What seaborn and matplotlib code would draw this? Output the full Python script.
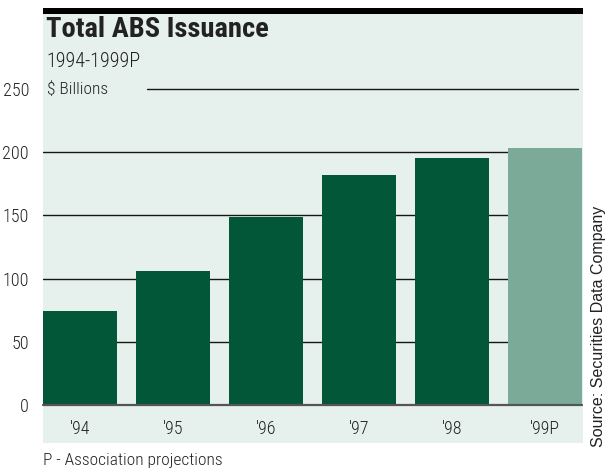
import matplotlib
matplotlib.use("Agg")
import matplotlib.pyplot as plt
from matplotlib import font_manager
from matplotlib.patches import Rectangle
import seaborn as sns
import pandas as pd

# Data ($ billions)
years = ["'94", "'95", "'96", "'97", "'98", "'99P"]
issuance = [74, 106, 149, 182, 195, 203]
bar_colors = ["#025738", "#025738", "#025738", "#025738", "#025738", "#7BAA99"]
y_ticks = [0, 50, 100, 150, 200, 250]

title = "Total ABS Issuance"
subtitle = "1994-1999P"
unit_label = "$ Billions"
source = "Source: Securities Data Company"
footnote = "P - Association projections"

PANEL = "#E6F0EC"
INK = "#222222"

sns.set_theme(style="white")

available = {f.name for f in font_manager.fontManager.ttflist}
family = next((f for f in ["Roboto Condensed", "Liberation Sans Narrow",
                           "Open Sans Condensed", "DejaVu Sans"] if f in available),
              "DejaVu Sans")
plt.rcParams["font.family"] = [family, "DejaVu Sans"]
LIGHT = "light"

W, H = 606, 468
fig = plt.figure(figsize=(W / 100, H / 100), dpi=100)


def fx(px):
    return px / W


def fy(py):
    return 1 - py / H


# background panel and black header rule
fig.patches.append(Rectangle((fx(43), fy(443)), fx(583) - fx(43), fy(8) - fy(443),
                             transform=fig.transFigure, facecolor=PANEL,
                             edgecolor="none", zorder=0))
fig.patches.append(Rectangle((fx(43), fy(14)), fx(583) - fx(43), fy(8) - fy(14),
                             transform=fig.transFigure, facecolor="black",
                             edgecolor="none", zorder=1))

ax = fig.add_axes([fx(43), fy(405), fx(582) - fx(43), fy(88.75) - fy(405)])
ax.set_zorder(5)
ax.set_facecolor("none")

df = pd.DataFrame({"year": years, "value": issuance})
bar_w = 0.79
sns.barplot(data=df, x="year", y="value", hue="year", palette=bar_colors,
            legend=False, width=bar_w, saturation=1, ax=ax, zorder=3,
            linewidth=0, edgecolor="none")

ax.set_xlim(-bar_w / 2, len(years) - 1 + bar_w / 2)
ax.set_ylim(0, 250)

# horizontal rules behind the bars
for v in y_ticks[1:-1]:
    ax.axhline(v, color="#151515", lw=1.0, zorder=1)
ax.axhline(y_ticks[-1], xmin=(147 - 43) / 539, xmax=(578 - 43) / 539,
           color="#151515", lw=1.0, zorder=1, clip_on=False)
ax.axhline(0, color="#555555", lw=1.6, zorder=4, clip_on=False)

for s in ax.spines.values():
    s.set_visible(False)
ax.set_yticks(y_ticks)
ax.tick_params(axis="both", length=0, labelsize=13, colors=INK)
ax.tick_params(axis="y", pad=10)
ax.tick_params(axis="x", pad=11)
for lab in ax.get_xticklabels() + ax.get_yticklabels():
    lab.set_fontweight(LIGHT)
ax.set_xlabel("")
ax.set_ylabel("")

ax.text((47 - 43) / 539, 250, unit_label, transform=ax.get_yaxis_transform(),
        fontsize=12.5, fontweight=LIGHT, color=INK, va="center", ha="left")

fig.text(fx(46), fy(37), title, fontsize=20.5, fontweight="bold", color=INK,
         ha="left", va="baseline")
fig.text(fx(46), fy(67), subtitle, fontsize=14.5, fontweight=LIGHT, color=INK,
         ha="left", va="baseline")
fig.text(fx(598), fy(447), source, fontsize=11.5, color=INK, rotation=90,
         family=["Liberation Sans", "DejaVu Sans"], ha="center", va="bottom")
fig.text(fx(43), fy(453), footnote, fontsize=12.5, fontweight=LIGHT, color=INK,
         ha="left", va="top")

fig.savefig("out.png", dpi=100, facecolor="white")
